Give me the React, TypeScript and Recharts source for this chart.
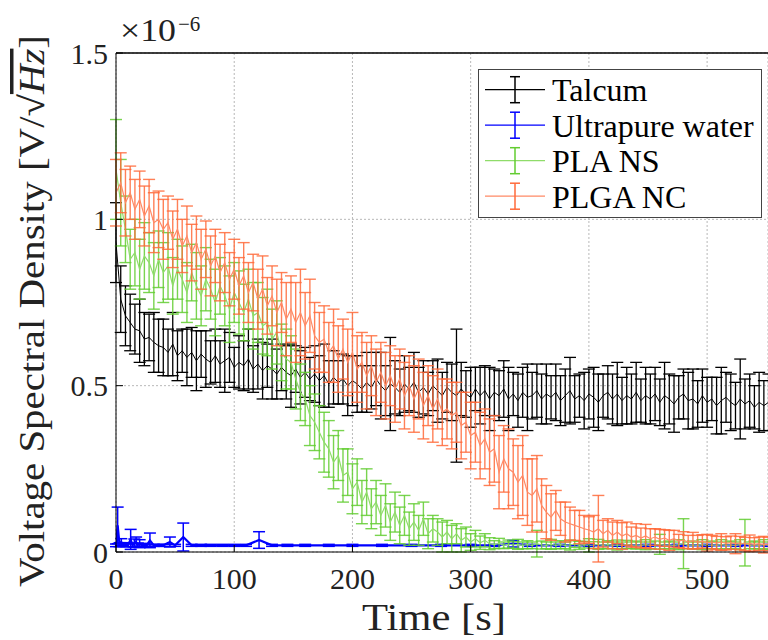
import React from 'react';
import { LineChart, Line, XAxis, YAxis, CartesianGrid, ErrorBar, Legend, ReferenceLine } from 'recharts';

const FONT = "'Liberation Serif'";

const TIME = [
  0, 4, 8, 12, 16, 20, 24, 28, 32, 36,
  40, 44, 48, 52, 56, 60, 64, 68, 72, 76,
  80, 84, 88, 92, 96, 100, 104, 108, 112, 116,
  120, 124, 128, 132, 136, 140, 144, 148, 152, 156,
  160, 164, 168, 172, 176, 180, 184, 188, 192, 196,
  200, 204, 208, 212, 216, 220, 224, 228, 232, 236,
  240, 244, 248, 252, 256, 260, 264, 268, 272, 276,
  280, 284, 288, 292, 296, 300, 304, 308, 312, 316,
  320, 324, 328, 332, 336, 340, 344, 348, 352, 356,
  360, 364, 368, 372, 376, 380, 384, 388, 392, 396,
  400, 404, 408, 412, 416, 420, 424, 428, 432, 436,
  440, 444, 448, 452, 456, 460, 464, 468, 472, 476,
  480, 484, 488, 492, 496, 500, 504, 508, 512, 516,
  520, 524, 528, 532, 536, 540, 544, 548, 552,
];

const TALCUM = [
  0.93, 0.76, 0.71, 0.69, 0.67, 0.665, 0.64, 0.645, 0.63, 0.62,
  0.615, 0.6, 0.625, 0.59, 0.605, 0.585, 0.6, 0.575, 0.595, 0.58,
  0.57, 0.59, 0.565, 0.575, 0.585, 0.555, 0.57, 0.56, 0.58, 0.55,
  0.565, 0.545, 0.56, 0.55, 0.535, 0.555, 0.54, 0.53, 0.55, 0.525,
  0.54, 0.52, 0.535, 0.515, 0.53, 0.505, 0.525, 0.51, 0.52, 0.5,
  0.515, 0.505, 0.49, 0.51, 0.495, 0.52, 0.5, 0.485, 0.505, 0.495,
  0.48, 0.505, 0.49, 0.51, 0.48, 0.495, 0.475, 0.5, 0.485, 0.47,
  0.495, 0.48, 0.47, 0.49, 0.475, 0.465, 0.49, 0.47, 0.485, 0.46,
  0.48, 0.47, 0.49, 0.46, 0.475, 0.455, 0.48, 0.465, 0.47, 0.485,
  0.46, 0.475, 0.465, 0.48, 0.455, 0.47, 0.485, 0.46, 0.47, 0.455,
  0.475, 0.465, 0.45, 0.47, 0.48, 0.46, 0.475, 0.455, 0.47, 0.46,
  0.48, 0.455, 0.47, 0.46, 0.475, 0.45, 0.47, 0.46, 0.445, 0.465,
  0.475, 0.455, 0.46, 0.445, 0.47, 0.45, 0.46, 0.44, 0.455, 0.465,
  0.45, 0.44, 0.46, 0.445, 0.455, 0.435, 0.45, 0.44, 0.45,
];

const TALCUM_ERR = [
  0.12, 0.1, 0.09, 0.085, 0.075, 0.095, 0.08, 0.07, 0.09, 0.08,
  0.085, 0.07, 0.095, 0.075, 0.065, 0.085, 0.075, 0.09, 0.07, 0.085,
  0.065, 0.08, 0.07, 0.095, 0.075, 0.06, 0.08, 0.075, 0.09, 0.07,
  0.075, 0.085, 0.065, 0.09, 0.075, 0.07, 0.08, 0.095, 0.07, 0.08,
  0.075, 0.065, 0.085, 0.075, 0.095, 0.07, 0.08, 0.065, 0.075, 0.09,
  0.075, 0.085, 0.07, 0.09, 0.065, 0.08, 0.1, 0.075, 0.14, 0.08,
  0.07, 0.085, 0.065, 0.09, 0.075, 0.08, 0.065, 0.075, 0.095, 0.07,
  0.075, 0.085, 0.2, 0.08, 0.07, 0.09, 0.065, 0.085, 0.075, 0.095,
  0.07, 0.075, 0.085, 0.095, 0.065, 0.08, 0.075, 0.1, 0.07, 0.08,
  0.075, 0.09, 0.065, 0.085, 0.075, 0.08, 0.1, 0.07, 0.065, 0.085,
  0.075, 0.09, 0.085, 0.065, 0.08, 0.075, 0.095, 0.07, 0.085, 0.075,
  0.09, 0.065, 0.085, 0.075, 0.08, 0.07, 0.1, 0.075, 0.085, 0.065,
  0.075, 0.085, 0.09, 0.07, 0.08, 0.075, 0.065, 0.085, 0.1, 0.075,
  0.085, 0.07, 0.12, 0.075, 0.08, 0.065, 0.09, 0.075, 0.085,
];

const PLA_NS = [
  1.15, 1.05, 0.97, 0.88, 0.9, 0.85, 0.89, 0.87, 0.83, 0.88,
  0.84, 0.86, 0.8, 0.85, 0.82, 0.78, 0.84, 0.8, 0.77, 0.82,
  0.79, 0.75, 0.8, 0.77, 0.73, 0.78, 0.75, 0.72, 0.76, 0.71,
  0.72, 0.68, 0.69, 0.64, 0.66, 0.6, 0.58, 0.57, 0.52, 0.48,
  0.46, 0.41, 0.39, 0.36, 0.33, 0.31, 0.27, 0.29, 0.23, 0.24,
  0.19, 0.21, 0.15, 0.18, 0.13, 0.15, 0.11, 0.14, 0.09, 0.12,
  0.08, 0.11, 0.07, 0.09, 0.065, 0.1, 0.055, 0.07, 0.06, 0.045,
  0.06, 0.04, 0.055, 0.035, 0.045, 0.03, 0.04, 0.028, 0.035, 0.025,
  0.022, 0.026, 0.02, 0.024, 0.021, 0.023, 0.02, 0.022, 0.02, 0.025,
  0.021, 0.02, 0.023, 0.02, 0.022, 0.02, 0.021, 0.024, 0.02, 0.022,
  0.02, 0.021, 0.023, 0.02, 0.022, 0.02, 0.021, 0.02, 0.023, 0.02,
  0.021, 0.02, 0.022, 0.02, 0.021, 0.023, 0.02, 0.021, 0.02, 0.022,
  0.025, 0.02, 0.021, 0.02, 0.022, 0.02, 0.021, 0.02, 0.022, 0.02,
  0.021, 0.02, 0.022, 0.028, 0.02, 0.021, 0.02, 0.022, 0.02,
];

const PLA_NS_ERR = [
  0.15, 0.13, 0.1, 0.09, 0.1, 0.09, 0.1, 0.09, 0.1, 0.085,
  0.09, 0.1, 0.085, 0.09, 0.1, 0.09, 0.085, 0.1, 0.09, 0.095,
  0.09, 0.1, 0.085, 0.09, 0.1, 0.09, 0.095, 0.085, 0.09, 0.1,
  0.09, 0.085, 0.1, 0.09, 0.095, 0.085, 0.09, 0.08, 0.09, 0.085,
  0.08, 0.09, 0.085, 0.08, 0.09, 0.085, 0.08, 0.075, 0.08, 0.07,
  0.075, 0.07, 0.065, 0.07, 0.06, 0.065, 0.06, 0.065, 0.055, 0.06,
  0.055, 0.06, 0.05, 0.055, 0.045, 0.05, 0.045, 0.04, 0.04, 0.045,
  0.035, 0.04, 0.03, 0.035, 0.03, 0.025, 0.025, 0.02, 0.02, 0.018,
  0.012, 0.015, 0.01, 0.012, 0.01, 0.015, 0.01, 0.012, 0.01, 0.04,
  0.012, 0.01, 0.015, 0.01, 0.012, 0.01, 0.015, 0.01, 0.012, 0.01,
  0.02, 0.01, 0.015, 0.01, 0.012, 0.01, 0.015, 0.01, 0.012, 0.01,
  0.012, 0.01, 0.015, 0.01, 0.012, 0.03, 0.01, 0.012, 0.01, 0.015,
  0.075, 0.01, 0.012, 0.01, 0.015, 0.01, 0.012, 0.01, 0.015, 0.01,
  0.012, 0.01, 0.015, 0.07, 0.01, 0.012, 0.01, 0.015, 0.01,
];

const PLGA_NC = [
  1.08, 1.11, 1.05, 1.08, 1.03, 1.06, 1.01, 1.04, 0.99, 1.0,
  0.97, 0.99, 0.94, 0.97, 0.92, 0.95, 0.9, 0.93, 0.88, 0.91,
  0.86, 0.89, 0.84, 0.87, 0.82, 0.85, 0.8, 0.83, 0.78, 0.81,
  0.76, 0.79, 0.74, 0.77, 0.72, 0.75, 0.7, 0.73, 0.69, 0.72,
  0.68, 0.71, 0.65, 0.63, 0.64, 0.6, 0.62, 0.58, 0.61, 0.57,
  0.6, 0.55, 0.57, 0.53, 0.56, 0.51, 0.54, 0.5, 0.53, 0.49,
  0.52, 0.47, 0.5, 0.46, 0.49, 0.44, 0.47, 0.43, 0.46, 0.42,
  0.43, 0.41, 0.42, 0.38, 0.39, 0.35, 0.36, 0.32, 0.34, 0.3,
  0.31, 0.24, 0.28, 0.25, 0.24, 0.21, 0.23, 0.18, 0.17, 0.19,
  0.14, 0.12, 0.105, 0.125, 0.1, 0.09, 0.085, 0.08, 0.075, 0.07,
  0.066, 0.06, 0.07, 0.055, 0.065, 0.05, 0.06, 0.048, 0.055, 0.045,
  0.05, 0.042, 0.048, 0.04, 0.045, 0.038, 0.042, 0.035, 0.04, 0.033,
  0.036, 0.03, 0.034, 0.03, 0.032, 0.028, 0.03, 0.027, 0.03, 0.026,
  0.028, 0.025, 0.027, 0.024, 0.026, 0.023, 0.025, 0.022, 0.024,
];

const PLGA_NC_ERR = [
  0.1, 0.09, 0.1, 0.08, 0.09, 0.085, 0.09, 0.08, 0.09, 0.085,
  0.09, 0.08, 0.085, 0.09, 0.08, 0.09, 0.085, 0.08, 0.09, 0.085,
  0.09, 0.08, 0.085, 0.09, 0.08, 0.09, 0.085, 0.1, 0.09, 0.085,
  0.09, 0.1, 0.085, 0.09, 0.1, 0.09, 0.11, 0.1, 0.12, 0.13,
  0.1, 0.11, 0.1, 0.09, 0.1, 0.09, 0.11, 0.1, 0.09, 0.1,
  0.12, 0.1, 0.09, 0.1, 0.09, 0.1, 0.09, 0.1, 0.09, 0.1,
  0.09, 0.1, 0.09, 0.1, 0.09, 0.1, 0.09, 0.1, 0.09, 0.1,
  0.09, 0.1, 0.09, 0.1, 0.09, 0.1, 0.09, 0.1, 0.09, 0.1,
  0.1, 0.11, 0.1, 0.12, 0.1, 0.11, 0.12, 0.1, 0.11, 0.1,
  0.08, 0.08, 0.07, 0.06, 0.05, 0.06, 0.05, 0.045, 0.05, 0.04,
  0.04, 0.05, 0.1, 0.04, 0.035, 0.04, 0.035, 0.04, 0.035, 0.03,
  0.035, 0.03, 0.035, 0.03, 0.025, 0.03, 0.025, 0.03, 0.025, 0.02,
  0.025, 0.02, 0.025, 0.02, 0.02, 0.025, 0.02, 0.02, 0.025, 0.02,
  0.02, 0.03, 0.02, 0.02, 0.025, 0.02, 0.02, 0.025, 0.02,
];

const WATER_TIME = [
  0, 1.4, 3, 4.5, 6, 8, 10, 12.4, 14, 15.5,
  17, 18.5, 20, 22, 24, 26, 28.7, 32, 36, 40,
  45.6, 50, 56.9, 64, 72, 80, 90, 100, 110, 121,
  132, 145, 160, 180, 200, 225, 250, 275, 300, 320,
  336, 350, 375, 400, 425, 450, 475, 500, 525, 552,
];

const WATER = [
  0.02, 0.08, 0.022, 0.03, 0.021, 0.022, 0.02, 0.038, 0.021, 0.027,
  0.03, 0.022, 0.025, 0.02, 0.021, 0.02, 0.035, 0.02, 0.02, 0.02,
  0.03, 0.02, 0.045, 0.02, 0.02, 0.02, 0.02, 0.02, 0.02, 0.036,
  0.02, 0.02, 0.02, 0.02, 0.02, 0.02, 0.02, 0.02, 0.02, 0.02,
  0.025, 0.02, 0.02, 0.02, 0.02, 0.02, 0.02, 0.02, 0.02, 0.02,
];

const WATER_ERR = [
  0.004, 0.055, 0.006, 0.01, 0.004, 0.006, 0.004, 0.03, 0.005, 0.012,
  0.015, 0.005, 0.012, 0.004, 0.005, 0.003, 0.022, 0.003, 0.003, 0.003,
  0.015, 0.003, 0.042, 0.003, 0.003, 0.003, 0.003, 0.003, 0.003, 0.025,
  0.003, 0.003, 0.003, 0.003, 0.003, 0.003, 0.003, 0.003, 0.003, 0.003,
  0.01, 0.003, 0.003, 0.003, 0.003, 0.003, 0.003, 0.003, 0.003, 0.003,
];

const X_TICKS = [0, 100, 200, 300, 400, 500];
const Y_TICKS = [0, 0.5, 1, 1.5];

const SERIES_NAMES = ['Talcum', 'Ultrapure water', 'PLA NS', 'PLGA NC'];
const LINE_COLORS = ['#000000', '#0000ff', '#8fdc6a', '#ff8a66'];
const BAR_COLORS = ['#000000', '#0000ff', '#62cc30', '#ff6a3a'];

const build = (ts: number[], vs: number[], es: number[]) =>
  ts.map((t, i) => ({ t, v: vs[i], e: es[i] }));

const talcData = build(TIME, TALCUM, TALCUM_ERR);
const waterData = build(WATER_TIME, WATER, WATER_ERR);
const plaData = build(TIME, PLA_NS, PLA_NS_ERR);
const plgaData = build(TIME, PLGA_NC, PLGA_NC_ERR);

const textStyle = (size: number): React.CSSProperties => ({ fontFamily: FONT, fontSize: size });

const LegendBox = () => (
  <svg width={285} height={150} style={{ display: 'block' }}>
    <rect x={0.5} y={0.5} width={283} height={148} fill="#ffffff" stroke="#444444" strokeWidth={1} />
    {SERIES_NAMES.map((name, i) => {
      const cy = 20.7 + i * 35.5;
      return (
        <g key={name}>
          <line x1={7} x2={67} y1={cy} y2={cy} stroke={LINE_COLORS[i]} strokeWidth={1.3} />
          <line x1={37} x2={37} y1={cy - 13} y2={cy + 13} stroke={BAR_COLORS[i]} strokeWidth={1.5} />
          <line x1={32} x2={42} y1={cy - 13} y2={cy - 13} stroke={BAR_COLORS[i]} strokeWidth={1.5} />
          <line x1={32} x2={42} y1={cy + 13} y2={cy + 13} stroke={BAR_COLORS[i]} strokeWidth={1.5} />
          <text x={74} y={cy} dy="0.36em" style={textStyle(32)} fill="#000">
            {name}
          </text>
        </g>
      );
    })}
  </svg>
);

const YLabel = () => (
  <g>
    <text
      transform="translate(44,311) rotate(-90)"
      textAnchor="middle"
      style={textStyle(35)}
      fill="#222"
      textLength={552}
      lengthAdjust="spacingAndGlyphs"
    >
      Voltage Spectral Density [V/√
      <tspan fontStyle="italic" textDecoration="overline">Hz</tspan>]
    </text>
    <text x={120} y={41} style={textStyle(31)} fill="#222" textLength={56} lengthAdjust="spacingAndGlyphs">
      ×10
    </text>
    <text x={178} y={31} style={textStyle(21)} fill="#222">
      −6
    </text>
  </g>
);

const XLabel = () => (
  <text
    x={434}
    y={630}
    textAnchor="middle"
    style={textStyle(37)}
    fill="#222"
    textLength={144}
    lengthAdjust="spacingAndGlyphs"
  >
    Time [s]
  </text>
);

const XTick = (props: any) => (
  <text x={props.x} y={props.y} dy="0.71em" textAnchor="middle" style={textStyle(30)} fill="#222">
    {String(props.payload.value)}
  </text>
);

const YTick = (props: any) => (
  <text x={props.x} y={props.y} dy="0.35em" textAnchor="end" style={textStyle(30)} fill="#222">
    {String(props.payload.value)}
  </text>
);

export default function App() {
  return (
    <div style={{ position: 'absolute', left: 0, top: 0, width: 768, height: 640, background: '#fff' }}>
      <LineChart width={768} height={640} margin={{ top: 0, right: 0, bottom: 0, left: 0 }}>
        <CartesianGrid stroke="#b8b8b8" strokeDasharray="2 2" />
        <XAxis
          dataKey="t"
          type="number"
          domain={[0, 551.5]}
          allowDataOverflow
          ticks={X_TICKS}
          height={88}
          tickSize={-7}
          tickMargin={23}
          tick={<XTick />}
          stroke="#000"
          tickLine={{ stroke: '#000' }}
          axisLine={{ stroke: '#000' }}
          label={<XLabel />}
        />
        <XAxis
          xAxisId="top"
          orientation="top"
          dataKey="t"
          type="number"
          domain={[0, 551.5]}
          allowDataOverflow
          ticks={X_TICKS}
          height={53}
          tickSize={-7}
          tick={false}
          stroke="#000"
          axisLine={{ stroke: '#000', strokeWidth: 1.2 }}
        />
        <YAxis
          type="number"
          domain={[0, 1.5]}
          allowDataOverflow
          ticks={Y_TICKS}
          width={116}
          tickSize={-7}
          tickMargin={15}
          tick={<YTick />}
          stroke="#000"
          label={<YLabel />}
        />
        <ReferenceLine y={1.5} stroke="#000" strokeWidth={1.2} />
        <Legend
          layout="vertical"
          verticalAlign="middle"
          align="center"
          content={() => <LegendBox />}
          wrapperStyle={{ left: 478, top: 69, width: 285, height: 150 }}
        />
        <Line
          data={talcData}
          dataKey="v"
          name={SERIES_NAMES[0]}
          stroke={LINE_COLORS[0]}
          strokeWidth={1}
          dot={false}
          activeDot={false}
          isAnimationActive={false}
        >
          <ErrorBar dataKey="e" direction="y" width={6} stroke={BAR_COLORS[0]} strokeWidth={1.3} isAnimationActive={false} />
        </Line>
        <Line
          data={waterData}
          dataKey="v"
          name={SERIES_NAMES[1]}
          stroke={LINE_COLORS[1]}
          strokeWidth={2.2}
          dot={false}
          activeDot={false}
          isAnimationActive={false}
        >
          <ErrorBar dataKey="e" direction="y" width={6} stroke={BAR_COLORS[1]} strokeWidth={1.5} isAnimationActive={false} />
        </Line>
        <Line
          data={plaData}
          dataKey="v"
          name={SERIES_NAMES[2]}
          stroke={LINE_COLORS[2]}
          strokeWidth={1.2}
          dot={false}
          activeDot={false}
          isAnimationActive={false}
        >
          <ErrorBar dataKey="e" direction="y" width={6} stroke={BAR_COLORS[2]} strokeOpacity={0.85} strokeWidth={1.4} isAnimationActive={false} />
        </Line>
        <Line
          data={plgaData}
          dataKey="v"
          name={SERIES_NAMES[3]}
          stroke={LINE_COLORS[3]}
          strokeWidth={1.2}
          dot={false}
          activeDot={false}
          isAnimationActive={false}
        >
          <ErrorBar dataKey="e" direction="y" width={6} stroke={BAR_COLORS[3]} strokeOpacity={0.85} strokeWidth={1.4} isAnimationActive={false} />
        </Line>
      </LineChart>
    </div>
  );
}
